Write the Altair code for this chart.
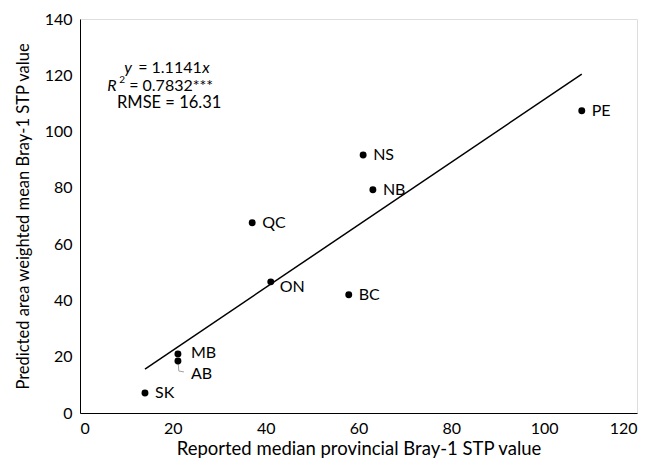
import altair as alt
import pandas as pd

# ---- data ----
provinces = ["SK", "MB", "AB", "ON", "QC", "BC", "NS", "NB", "PE"]
reported = [14.0, 21.1, 21.1, 41.1, 37.1, 57.9, 61.0, 63.1, 108.1]
predicted = [7.1, 21.0, 18.5, 46.6, 67.6, 42.0, 91.7, 79.3, 107.4]
slope = 1.1141
fit_x = [14.0, 108.1]
x_ticks = [0, 20, 40, 60, 80, 100, 120]
y_ticks = [0, 20, 40, 60, 80, 100, 120, 140]
leader_x = [21.1, 21.3, 22.4]
leader_y = [18.5, 14.9, 14.6]
ann_x = 9.3
ann_y = [122.7, 116.3, 110.2]

FONT = "Lato"
FS = 16

df = pd.DataFrame({"prov": provinces, "x": reported, "y": predicted})
fit = pd.DataFrame({"x": fit_x})
leader = pd.DataFrame({"x": leader_x, "y": leader_y, "o": list(range(len(leader_x)))})

xs = alt.Scale(domain=[0, 120], nice=False)
ys = alt.Scale(domain=[0, 140], nice=False)

xax = alt.Axis(values=x_ticks, grid=False, ticks=False, domainColor="#000000",
               labelFont=FONT, labelFontSize=FS, labelColor="#000000", labelPadding=7,
               titleFont=FONT, titleFontSize=18.5, titleFontWeight="normal", titleColor="#000000",
               titlePadding=3, title="Reported median provincial Bray-1 STP value")
yax = alt.Axis(values=y_ticks, grid=False, ticks=False, domainColor="#000000",
               labelFont=FONT, labelFontSize=FS, labelColor="#000000", labelPadding=8,
               titleFont=FONT, titleFontSize=16.5, titleFontWeight="normal", titleColor="#000000",
               titlePadding=13, title="Predicted area weighted mean Bray-1 STP value")

base = alt.Chart(df)

points = base.mark_circle(size=48, color="#000000", opacity=1).encode(
    x=alt.X("x:Q", scale=xs, axis=xax),
    y=alt.Y("y:Q", scale=ys, axis=yax),
)

def labels(names, dx, dy):
    return base.transform_filter(
        alt.FieldOneOfPredicate(field="prov", oneOf=names)
    ).mark_text(align="left", baseline="middle", dx=dx, dy=dy, font=FONT,
                fontSize=FS, color="#000000").encode(
        x=alt.X("x:Q", scale=xs), y=alt.Y("y:Q", scale=ys), text="prov:N")

lab_main = labels(["SK", "QC", "BC", "NS", "NB", "PE"], 10, 0)
lab_on = labels(["ON"], 9, 5)
lab_mb = labels(["MB"], 13, -1)
lab_ab = labels(["AB"], 13, 13)

fit_line = alt.Chart(fit).transform_calculate(y=f"{slope} * datum.x").mark_line(
    color="#000000", strokeWidth=1.5).encode(
    x=alt.X("x:Q", scale=xs), y=alt.Y("y:Q", scale=ys))

lead = alt.Chart(leader).mark_line(color="#a0a0a0", strokeWidth=1).encode(
    x=alt.X("x:Q", scale=xs), y=alt.Y("y:Q", scale=ys), order="o:Q")

ann_rows = pd.DataFrame({
    "t": ["y", "= 1.1141", "x", "R", "2", "= 0.7832***", "RMSE = 16.31"],
    "ax": [ann_x] * 7,
    "ay": [ann_y[0], ann_y[0], ann_y[0], ann_y[1], ann_y[1], ann_y[1], ann_y[2]],
    "k": list(range(7)),
})

def ann(k, dx, dy=0, italic=False, size=FS, align="left"):
    return alt.Chart(ann_rows).transform_filter(alt.datum.k == k).mark_text(
        align=align, baseline="middle", dx=dx, dy=dy, font=FONT, fontSize=size,
        fontStyle="italic" if italic else "normal", color="#000000").encode(
        x=alt.X("ax:Q", scale=xs), y=alt.Y("ay:Q", scale=ys), text="t:N")

annots = [
    ann(0, 1, italic=True), ann(1, 15), ann(2, 79, italic=True),
    ann(3, -16, italic=True), ann(4, -4, dy=-6, size=10), ann(5, 6),
    ann(6, 46, align="center", size=16.5),
]

chart = alt.layer(fit_line, lead, points, lab_main, lab_on, lab_mb, lab_ab, *annots).properties(
    width=557, height=394,
    autosize=alt.AutoSizeParams(type="none"),
    padding={"left": 72, "top": 11, "right": 10, "bottom": 50},
).configure_view(stroke=None).configure(background="#ffffff")

chart.save("out.html", embed_options={"renderer": "svg", "actions": False})
